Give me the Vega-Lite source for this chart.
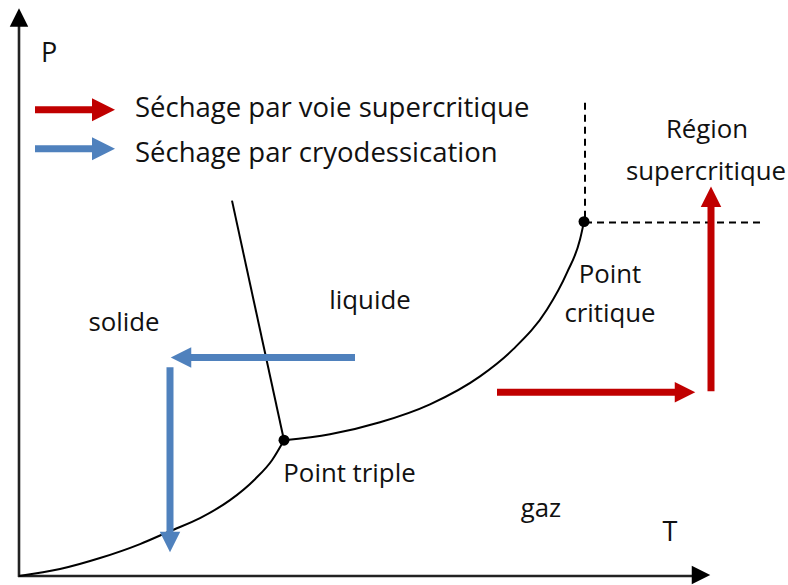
{
  "$schema": "https://vega.github.io/schema/vega-lite/v6.json",
  "width": 788,
  "height": 585,
  "padding": 0,
  "autosize": {"type": "fit", "contains": "padding"},
  "background": "white",
  "config": {"view": {"stroke": null}},
  "datasets": {
    "curves": [
      {"curve": "sublimation", "T": 19, "P": 577},
      {"curve": "sublimation", "T": 60, "P": 570},
      {"curve": "sublimation", "T": 100, "P": 559},
      {"curve": "sublimation", "T": 140, "P": 545},
      {"curve": "sublimation", "T": 170, "P": 532},
      {"curve": "sublimation", "T": 200, "P": 519},
      {"curve": "sublimation", "T": 230, "P": 501},
      {"curve": "sublimation", "T": 255, "P": 480},
      {"curve": "sublimation", "T": 272, "P": 461},
      {"curve": "sublimation", "T": 284, "P": 441},
      {"curve": "vaporisation", "T": 284, "P": 441},
      {"curve": "vaporisation", "T": 330, "P": 435},
      {"curve": "vaporisation", "T": 380, "P": 423},
      {"curve": "vaporisation", "T": 430, "P": 405},
      {"curve": "vaporisation", "T": 480, "P": 377},
      {"curve": "vaporisation", "T": 513, "P": 350},
      {"curve": "vaporisation", "T": 547, "P": 310},
      {"curve": "vaporisation", "T": 567, "P": 273},
      {"curve": "vaporisation", "T": 580, "P": 240},
      {"curve": "vaporisation", "T": 584, "P": 222}
    ],
    "fusion": [
      {"T": 232, "P": 201, "T2": 284, "P2": 441}
    ],
    "axes": [
      {"name": "P", "T": 19, "P": 578, "T2": 19, "P2": 24},
      {"name": "T", "T": 18, "P": 577, "T2": 694, "P2": 577}
    ],
    "axisHeads": [
      {"name": "P", "dir": "up", "T": 19, "P": 17.5},
      {"name": "T", "dir": "right", "T": 701, "P": 576}
    ],
    "dashes": [
      {"T": 585, "P": 103, "T2": 585, "P2": 222},
      {"T": 585, "P": 223, "T2": 764, "P2": 223}
    ],
    "shafts": [
      {"flow": "voie supercritique", "T": 35, "P": 110, "T2": 95, "P2": 110},
      {"flow": "cryodessication", "T": 35, "P": 149, "T2": 95, "P2": 149},
      {"flow": "voie supercritique", "T": 497, "P": 393, "T2": 678, "P2": 393},
      {"flow": "voie supercritique", "T": 711, "P": 392, "T2": 711, "P2": 204},
      {"flow": "cryodessication", "T": 355, "P": 358, "T2": 188, "P2": 358},
      {"flow": "cryodessication", "T": 170, "P": 368, "T2": 170, "P2": 536}
    ],
    "legendHeads": [
      {"flow": "voie supercritique", "dir": "right", "T": 103.5, "P": 110},
      {"flow": "cryodessication", "dir": "right", "T": 103.5, "P": 149}
    ],
    "plotHeads": [
      {"flow": "voie supercritique", "dir": "right", "T": 685, "P": 393},
      {"flow": "voie supercritique", "dir": "up", "T": 711, "P": 197},
      {"flow": "cryodessication", "dir": "left", "T": 181, "P": 358},
      {"flow": "cryodessication", "dir": "down", "T": 170, "P": 543}
    ],
    "points": [
      {"name": "Point triple", "T": 284, "P": 441},
      {"name": "Point critique", "T": 584, "P": 222}
    ],
    "legendText": [
      {"label": "Séchage par voie supercritique", "T": 135, "P": 117},
      {"label": "Séchage par cryodessication", "T": 135, "P": 162}
    ],
    "labels": [
      {"label": "Région", "T": 707, "P": 138},
      {"label": "supercritique", "T": 706, "P": 180},
      {"label": "Point", "T": 610, "P": 283},
      {"label": "critique", "T": 610, "P": 323},
      {"label": "liquide", "T": 370, "P": 310},
      {"label": "solide", "T": 124, "P": 332},
      {"label": "Point triple", "T": 349.5, "P": 483},
      {"label": "gaz", "T": 541, "P": 518}
    ],
    "axisLabels": [
      {"label": "P", "T": 49, "P": 62},
      {"label": "T", "T": 670, "P": 542}
    ]
  },
  "encoding": {
    "x": {"field": "T", "type": "quantitative", "scale": {"domain": [0, 788], "nice": false, "zero": false}, "axis": null},
    "y": {"field": "P", "type": "quantitative", "scale": {"domain": [0, 585], "nice": false, "zero": false, "reverse": true}, "axis": null}
  },
  "layer": [
    {
      "data": {"name": "axes"},
      "mark": {"type": "rule", "color": "#222222", "strokeWidth": 2.6},
      "encoding": {"x2": {"field": "T2"}, "y2": {"field": "P2"}}
    },
    {
      "data": {"name": "axisHeads"},
      "mark": {"type": "point", "filled": true, "opacity": 1, "color": "#000000", "size": 340},
      "encoding": {
        "shape": {"field": "dir", "type": "nominal", "legend": null, "scale": {"domain": ["right", "left", "up", "down"], "range": ["M-1,-1L1,0L-1,1Z", "M1,-1L-1,0L1,1Z", "M-1,1L0,-1L1,1Z", "M-1,-1L0,1L1,-1Z"]}}
      }
    },
    {
      "data": {"name": "dashes"},
      "mark": {"type": "rule", "color": "#000000", "strokeWidth": 2, "strokeDash": [7, 5]},
      "encoding": {"x2": {"field": "T2"}, "y2": {"field": "P2"}}
    },
    {
      "data": {"name": "fusion"},
      "mark": {"type": "rule", "color": "#000000", "strokeWidth": 2},
      "encoding": {"x2": {"field": "T2"}, "y2": {"field": "P2"}}
    },
    {
      "data": {"name": "curves"},
      "mark": {"type": "line", "color": "#000000", "strokeWidth": 2, "interpolate": "monotone"},
      "encoding": {"detail": {"field": "curve", "type": "nominal"}}
    },
    {
      "data": {"name": "shafts"},
      "mark": {"type": "rule", "strokeWidth": 7, "strokeCap": "butt"},
      "encoding": {
        "x2": {"field": "T2"}, "y2": {"field": "P2"},
        "color": {"field": "flow", "type": "nominal", "legend": null, "scale": {"domain": ["voie supercritique", "cryodessication"], "range": ["#C00000", "#4F81BD"]}}
      }
    },
    {
      "data": {"name": "legendHeads"},
      "mark": {"type": "point", "filled": true, "opacity": 1, "size": 529},
      "encoding": {
        "color": {"field": "flow", "type": "nominal", "legend": null, "scale": {"domain": ["voie supercritique", "cryodessication"], "range": ["#C00000", "#4F81BD"]}},
        "shape": {"field": "dir", "type": "nominal", "legend": null, "scale": {"domain": ["right", "left", "up", "down"], "range": ["M-1,-1L1,0L-1,1Z", "M1,-1L-1,0L1,1Z", "M-1,1L0,-1L1,1Z", "M-1,-1L0,1L1,-1Z"]}}
      }
    },
    {
      "data": {"name": "plotHeads"},
      "mark": {"type": "point", "filled": true, "opacity": 1, "size": 420},
      "encoding": {
        "color": {"field": "flow", "type": "nominal", "legend": null, "scale": {"domain": ["voie supercritique", "cryodessication"], "range": ["#C00000", "#4F81BD"]}},
        "shape": {"field": "dir", "type": "nominal", "legend": null, "scale": {"domain": ["right", "left", "up", "down"], "range": ["M-1,-1L1,0L-1,1Z", "M1,-1L-1,0L1,1Z", "M-1,1L0,-1L1,1Z", "M-1,-1L0,1L1,-1Z"]}}
      }
    },
    {
      "data": {"name": "points"},
      "mark": {"type": "point", "shape": "circle", "filled": true, "opacity": 1, "color": "#000000", "size": 120}
    },
    {
      "data": {"name": "legendText"},
      "mark": {"type": "text", "font": "Open Sans", "fontSize": 27.5, "align": "left", "baseline": "alphabetic", "color": "#111111"},
      "encoding": {"text": {"field": "label"}}
    },
    {
      "data": {"name": "labels"},
      "mark": {"type": "text", "font": "Open Sans", "fontSize": 25.8, "align": "center", "baseline": "alphabetic", "color": "#111111"},
      "encoding": {"text": {"field": "label"}}
    },
    {
      "data": {"name": "axisLabels"},
      "mark": {"type": "text", "font": "Open Sans", "fontSize": 27, "align": "center", "baseline": "alphabetic", "color": "#111111"},
      "encoding": {"text": {"field": "label"}}
    }
  ]
}
